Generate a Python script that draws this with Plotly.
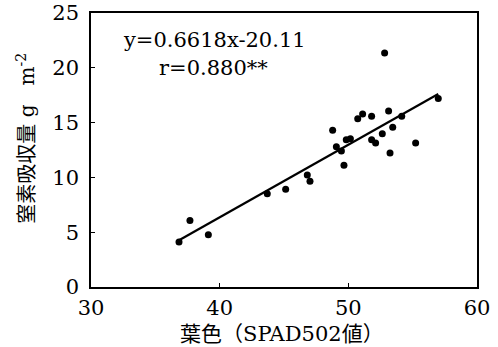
import plotly.graph_objects as go

spad = [36.84, 37.69, 39.12, 43.70, 45.13, 46.81, 47.02, 48.78, 49.07, 49.46,
        49.66, 49.84, 50.16, 50.73, 51.11, 51.81, 51.81, 52.12, 52.64, 52.82,
        53.13, 53.24, 53.45, 54.15, 55.23, 56.99]
nitrogen = [4.10, 6.07, 4.77, 8.50, 8.93, 10.23, 9.66, 14.31, 12.80, 12.41,
            11.11, 13.43, 13.52, 15.36, 15.79, 15.57, 13.43, 13.13, 13.98, 21.34,
            16.06, 12.22, 14.58, 15.57, 13.13, 17.20]
slope, intercept = 0.6618, -20.11
eq_text = "y=0.6618x-20.11"
r_text = "r=0.880**"
x_ticks = [30, 40, 50, 60]
y_ticks = [0, 5, 10, 15, 20, 25]

serif = "DejaVu Serif, Noto Sans CJK JP"

line_x = [min(spad), max(spad)]
line_y = [slope * v + intercept for v in line_x]

fig = go.Figure()
fig.add_trace(go.Scatter(x=line_x, y=line_y, mode="lines",
                         line=dict(color="black", width=2.2), showlegend=False))
fig.add_trace(go.Scatter(x=spad, y=nitrogen, mode="markers",
                         marker=dict(color="black", size=7), showlegend=False))

axis_common = dict(showgrid=False, zeroline=False, showline=True, linecolor="black",
                   linewidth=1.5, mirror=True, ticks="inside", ticklen=4,
                   tickcolor="black", tickwidth=1, automargin=False,
                   tickfont=dict(family=serif, size=21, color="black"))

fig.update_xaxes(range=[30, 60], tickvals=x_ticks, ticklabelstandoff=1, **axis_common)
fig.update_yaxes(range=[0, 25], tickvals=y_ticks, ticklabelstandoff=6, **axis_common)

fig.add_annotation(x=39.6, y=22.5, xref="x", yref="y", text=eq_text, showarrow=False,
                   font=dict(family=serif, size=21, color="black"))
fig.add_annotation(x=39.55, y=20.0, xref="x", yref="y", text=r_text, showarrow=False,
                   font=dict(family=serif, size=21, color="black"))
fig.add_annotation(x=-0.168, y=0.542, xref="paper", yref="paper",
                   xanchor="center", yanchor="middle",
                   text="窒素吸収量&nbsp;g&nbsp;&nbsp;&nbsp;m<sup>-2</sup>", textangle=-90,
                   showarrow=False, font=dict(family=serif, size=20, color="black"))
fig.add_annotation(x=0.495, y=-0.172, xref="paper", yref="paper",
                   xanchor="center", yanchor="middle",
                   text="葉色（SPAD502値）", showarrow=False,
                   font=dict(family=serif, size=21, color="black"))

fig.update_layout(width=498, height=347, margin=dict(l=91, r=21, t=13, b=60),
                  plot_bgcolor="white", paper_bgcolor="white")

fig.write_html("out.html", config={"displayModeBar": False},
               post_script="document.body.style.margin='0';")
